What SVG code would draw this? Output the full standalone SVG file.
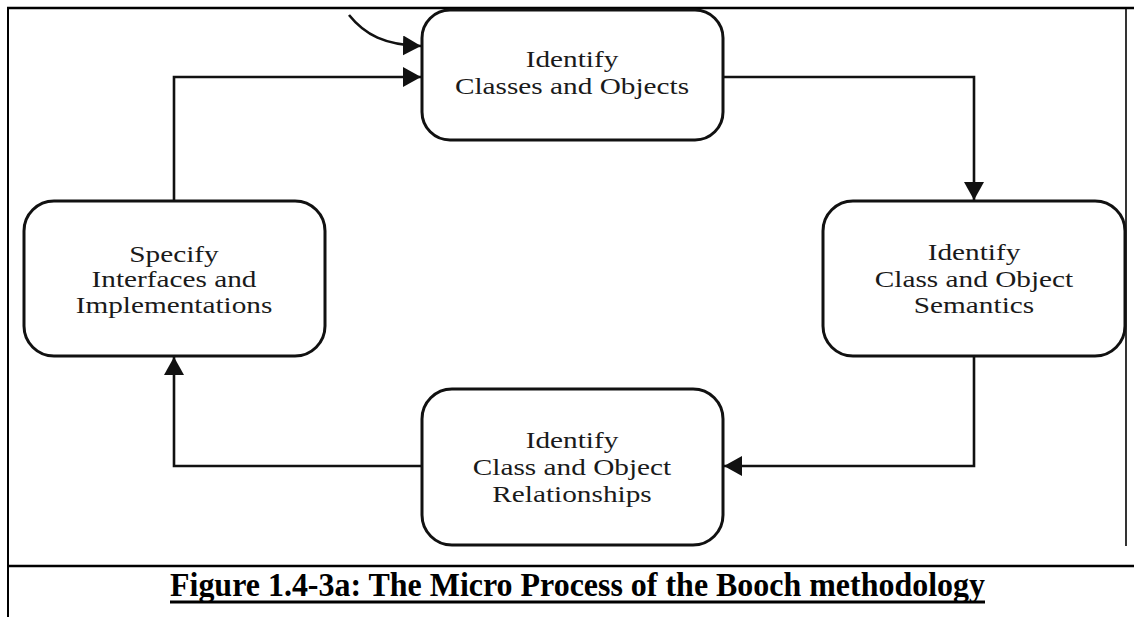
<svg xmlns="http://www.w3.org/2000/svg" width="1134" height="617" viewBox="0 0 1134 617">
  <style>
    .frame { stroke: #000; fill: none; }
    .box { fill: #fff; stroke: #111; stroke-width: 3; }
    .conn { fill: none; stroke: #111; stroke-width: 2.6; }
    .label { font-family: "Liberation Serif", "Times New Roman", serif; font-size: 24px; fill: #1a1a1a; text-anchor: middle; }
    .caption { font-family: "Liberation Serif", "Times New Roman", serif; font-size: 33px; font-weight: bold; fill: #000; }
  </style>
  <defs>
    <marker id="arrow" markerUnits="userSpaceOnUse" markerWidth="19" markerHeight="20" refX="18" refY="10" orient="auto">
      <path d="M0,0 L18,10 L0,20 Z" fill="#111"/>
    </marker>
  </defs>

  <rect width="1134" height="617" fill="#fff"/>

  <!-- table frame -->
  <g id="frame">
    <line class="frame" x1="7" y1="8" x2="1134" y2="8" stroke-width="2.4"/>
    <line class="frame" x1="8" y1="7" x2="8" y2="617" stroke-width="2"/>
    <line class="frame" x1="1126" y1="8" x2="1126" y2="546" stroke-width="1.6"/>
    <line class="frame" x1="7" y1="566" x2="1134" y2="566" stroke-width="2.6"/>
  </g>

  <!-- connectors -->
  <g id="connectors">
    <path class="conn" d="M349,15 C365,35 385,45 421,46" marker-end="url(#arrow)"/>
    <path class="conn" d="M174,201 L174,77 L421,77" marker-end="url(#arrow)"/>
    <path class="conn" d="M723,77 L974,77 L974,200" marker-end="url(#arrow)"/>
    <path class="conn" d="M974,356 L974,466 L724,466" marker-end="url(#arrow)"/>
    <path class="conn" d="M422,466 L174,466 L174,357" marker-end="url(#arrow)"/>
  </g>

  <!-- nodes -->
  <g id="node-classes-objects">
    <rect class="box" x="422" y="10" width="301" height="130" rx="28" ry="28"/>
    <g transform="translate(572,0) scale(1.22,1)">
      <text class="label" x="0" y="67">Identify</text>
      <text class="label" x="0" y="94">Classes and Objects</text>
    </g>
  </g>

  <g id="node-semantics">
    <rect class="box" x="823" y="201" width="302" height="155" rx="30" ry="30"/>
    <g transform="translate(974,0) scale(1.22,1)">
      <text class="label" x="0" y="260">Identify</text>
      <text class="label" x="0" y="287">Class and Object</text>
      <text class="label" x="0" y="313">Semantics</text>
    </g>
  </g>

  <g id="node-relationships">
    <rect class="box" x="422" y="389" width="301" height="156" rx="30" ry="30"/>
    <g transform="translate(572,0) scale(1.22,1)">
      <text class="label" x="0" y="448">Identify</text>
      <text class="label" x="0" y="475">Class and Object</text>
      <text class="label" x="0" y="502">Relationships</text>
    </g>
  </g>

  <g id="node-interfaces">
    <rect class="box" x="24" y="201" width="301" height="155" rx="30" ry="30"/>
    <g transform="translate(174,0) scale(1.22,1)">
      <text class="label" x="0" y="262">Specify</text>
      <text class="label" x="0" y="287">Interfaces and</text>
      <text class="label" x="0" y="313">Implementations</text>
    </g>
  </g>

  <!-- caption -->
  <g id="caption">
    <text class="caption" x="170" y="596" textLength="815" lengthAdjust="spacingAndGlyphs">Figure 1.4-3a: The Micro Process of the Booch methodology</text>
    <line x1="170" y1="602" x2="985" y2="602" stroke="#000" stroke-width="3.2"/>
  </g>
</svg>
